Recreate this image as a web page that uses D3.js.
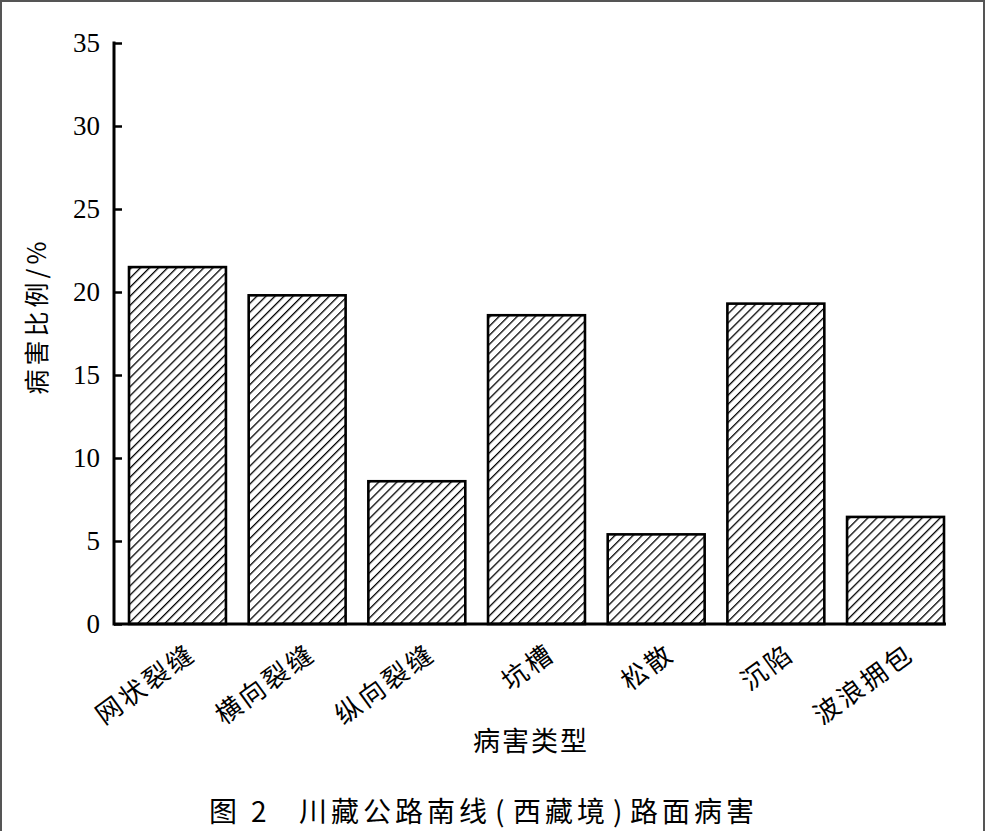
<!DOCTYPE html>
<html><head><meta charset="utf-8">
<script src="https://cdn.jsdelivr.net/npm/d3@7"></script>
<style>
body{margin:0;background:#fff;}
svg{display:block;}
text{fill:#000;}
</style></head>
<body>
<svg id="chart" width="985" height="831"></svg>
<script>
const categories = ["网状裂缝","横向裂缝","纵向裂缝","坑槽","松散","沉陷","波浪拥包"];
const values = [21.5, 19.8, 8.6, 18.6, 5.4, 19.3, 6.45];
const yTicks = [0,5,10,15,20,25,30,35];
const yLabel = "病害比例/%";
const xLabel = "病害类型";
const captionParts = ["图 2", "川藏公路南线", "(", "西藏境", ")", "路面病害"];

const svg = d3.select("#chart");
const serif = "'Liberation Serif','DejaVu Serif',serif";
const cjk = "'Noto Sans CJK SC','Liberation Serif',serif";

// frame
svg.append("path").attr("d","M1,831 V1 H984 V831").attr("fill","none")
  .attr("stroke","#555").attr("stroke-width",2);

const defs = svg.append("defs");
const pat = defs.append("pattern").attr("id","hatch").attr("patternUnits","userSpaceOnUse")
  .attr("width",6.4).attr("height",6.4).attr("patternTransform","rotate(45)");
pat.append("rect").attr("width",6.4).attr("height",6.4).attr("fill","#fff");
pat.append("line").attr("x1",0).attr("y1",0).attr("x2",0).attr("y2",6.4)
  .attr("stroke","#000").attr("stroke-width",2.6);

const axisX = 114, xEnd = 946;
const y = d3.scaleLinear().domain([0,35]).range([624,43]);
const x = d3.scaleBand().domain(categories).range([129,944]).paddingInner(0.19).paddingOuter(0);

// bars
svg.append("g").selectAll("rect").data(categories).join("rect")
  .attr("x", d => x(d)).attr("width", x.bandwidth())
  .attr("y", (d,i) => y(values[i])).attr("height", (d,i) => y(0) - y(values[i]))
  .attr("fill","url(#hatch)").attr("stroke","#000").attr("stroke-width",2.6);

// y axis
const yAxis = d3.axisRight(y).tickValues(yTicks).tickSize(8).tickFormat(d3.format("d"));
const gy = svg.append("g").attr("transform",`translate(${axisX},0)`).call(yAxis);
gy.select(".domain").remove();
gy.selectAll(".tick line").attr("stroke","#000").attr("stroke-width",2.5);
gy.selectAll(".tick text").attr("x",-14).attr("text-anchor","end").attr("dy","0.33em")
  .attr("font-family",serif).attr("font-size",27).attr("fill","#000");
svg.append("line").attr("x1",axisX).attr("x2",axisX).attr("y1",y(35)-1.5).attr("y2",y(0)+1.5)
  .attr("stroke","#000").attr("stroke-width",3);

// x axis
svg.append("line").attr("x1",axisX).attr("x2",xEnd).attr("y1",y(0)).attr("y2",y(0))
  .attr("stroke","#000").attr("stroke-width",3);

svg.append("g").selectAll("text").data(categories).join("text")
  .attr("transform", d => `translate(${x(d)+x.bandwidth()/2+15},${650}) rotate(-36)`)
  .attr("text-anchor","end").attr("dy","0.35em").attr("letter-spacing",3)
  .attr("font-family",cjk).attr("font-size",26).text(d => d);

// axis titles
svg.append("text").attr("transform","translate(46,316) rotate(-90)")
  .attr("text-anchor","middle").attr("font-family",cjk).attr("font-size",25)
  .attr("letter-spacing",4).text(yLabel);
svg.append("text").attr("x",473).attr("y",751).attr("text-anchor","start")
  .attr("font-family",cjk).attr("font-size",27).attr("letter-spacing",2).text(xLabel);

// caption
const capX = [209, 299, 495, 513, 613, 630];
const capSpacing = [0, 4, 0, 4, 0, 4];
svg.append("g").selectAll("text").data(captionParts).join("text")
  .attr("x",(d,i)=>capX[i]).attr("y",822)
  .attr("font-family",cjk).attr("font-size",28)
  .attr("letter-spacing",(d,i)=>capSpacing[i])
  .style("white-space","pre")
  .text(d=>d.replace(" ","\u2002"));
</script>
</body></html>
